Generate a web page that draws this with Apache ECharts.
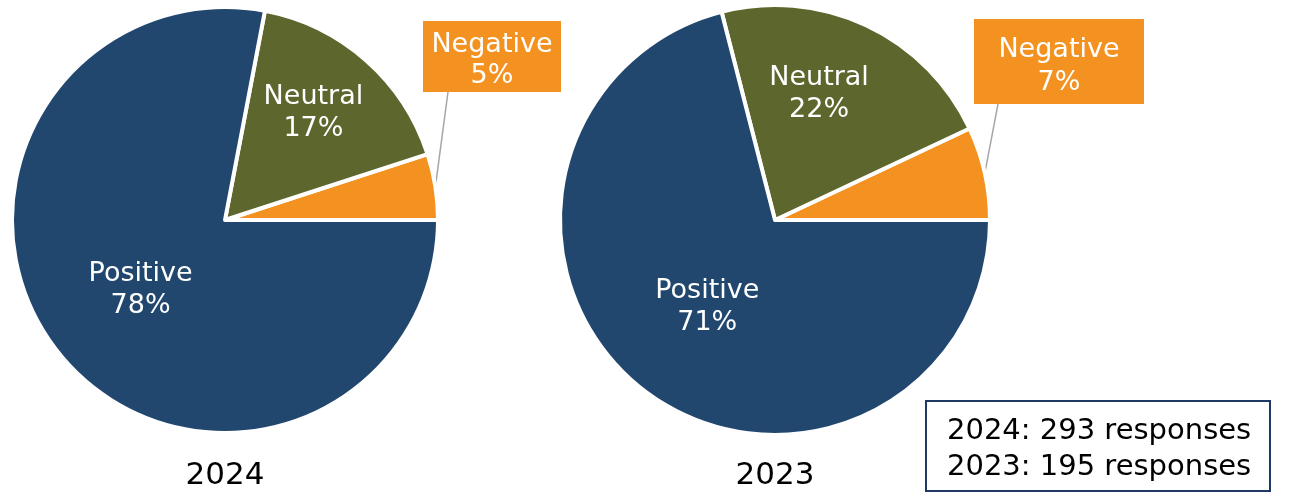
<!DOCTYPE html>
<html><head><meta charset="utf-8">
<script src="https://cdn.jsdelivr.net/npm/echarts@6/dist/echarts.min.js"></script>
<style>html,body{margin:0;padding:0;background:#fff}#c{width:1292px;height:493px}</style>
</head><body><div id="c"></div>
<script>
// ---- data ----
const categories = ['Negative', 'Neutral', 'Positive'];
const values2024 = [5, 17, 78];
const values2023 = [7, 22, 71];
const years = ['2024', '2023'];
const responses = [293, 195];

// ---- styles / layout ----
const colors = ['#F39220', '#5C662D', '#21476F'];
const FONT = 'DejaVu Sans';
const pies = [
  { center: [225, 220], radius: 213, values: values2024, year: years[0],
    neutralNudge: [16, -25],
    negBox: { cx: 492, cy: 56.5, w: 138, h: 71, textW: 124, lh: 31.5, pad: [8, 7, 0, 7], lineDx: 25 } },
  { center: [775, 220], radius: 215, values: values2023, year: years[1],
    neutralNudge: [-3, -26],
    negBox: { cx: 1059, cy: 61.5, w: 170, h: 85, textW: 124, lh: 33, pad: [14, 23, 5, 23], lineDx: 24 } }
];

function buildSeries(cfg, si) {
  return {
    type: 'pie',
    center: cfg.center,
    radius: cfg.radius,
    startAngle: 0,
    clockwise: false,
    avoidLabelOverlap: false,
    animation: false,
    silent: true,
    itemStyle: { borderColor: '#ffffff', borderWidth: 4 },
    label: {
      show: true, position: 'inside', formatter: '{b}\n{c}%',
      color: '#ffffff', fontFamily: FONT, fontSize: 27, lineHeight: 32, align: 'center'
    },
    labelLine: { show: false },
    data: categories.map((name, i) => {
      const d = { name: name, value: cfg.values[i], itemStyle: { color: colors[i] } };
      if (i === 0) {
        d.label = {
          position: 'outside', backgroundColor: colors[0], padding: cfg.negBox.pad,
          width: cfg.negBox.textW, overflow: 'none', lineHeight: cfg.negBox.lh, align: 'center'
        };
        d.labelLine = { show: true, length: 10, length2: 0, lineStyle: { color: '#A6A6A6', width: 1.5 } };
      }
      return d;
    }),
    labelLayout: function (p) {
      const c = pies[p.seriesIndex];
      if (p.dataIndex === 0) {
        const b = c.negBox;
        const midDeg = c.values[0] / 100 * 360 / 2;
        const a = midDeg * Math.PI / 180;
        const start = [c.center[0] + c.radius * Math.cos(a), c.center[1] - c.radius * Math.sin(a)];
        const end = [b.cx - b.w / 2 + b.lineDx, b.cy + b.h / 2];
        const mid = [(start[0] + end[0]) / 2, (start[1] + end[1]) / 2];
        return { x: b.cx, y: b.cy - b.h / 2, align: 'center', verticalAlign: 'top', labelLinePoints: [start, mid, end] };
      }
      if (p.dataIndex === 1) {
        return { dx: c.neutralNudge[0], dy: c.neutralNudge[1] };
      }
      return {};
    }
  };
}

const chart = echarts.init(document.getElementById('c'), null, { renderer: 'canvas' });
chart.setOption({
  backgroundColor: '#ffffff',
  animation: false,
  series: pies.map(buildSeries),
  graphic: [
    { type: 'text', x: pies[0].center[0], y: 476, style: { text: years[0], fill: '#000', fontFamily: FONT, fontSize: 31, align: 'center', verticalAlign: 'middle' } },
    { type: 'text', x: pies[1].center[0], y: 476, style: { text: years[1], fill: '#000', fontFamily: FONT, fontSize: 31, align: 'center', verticalAlign: 'middle' } },
    { type: 'rect', x: 926, y: 401, shape: { x: 0, y: 0, width: 344, height: 90 }, style: { fill: '#ffffff', stroke: '#203864', lineWidth: 2 } },
    { type: 'text', x: 947, y: 413, style: {
        text: years.map((y, i) => y + ': ' + responses[i] + ' responses').join('\n'),
        fill: '#000', fontFamily: FONT, fontSize: 29, lineHeight: 36, align: 'left', verticalAlign: 'top' } }
  ]
});
</script>
</body></html>
